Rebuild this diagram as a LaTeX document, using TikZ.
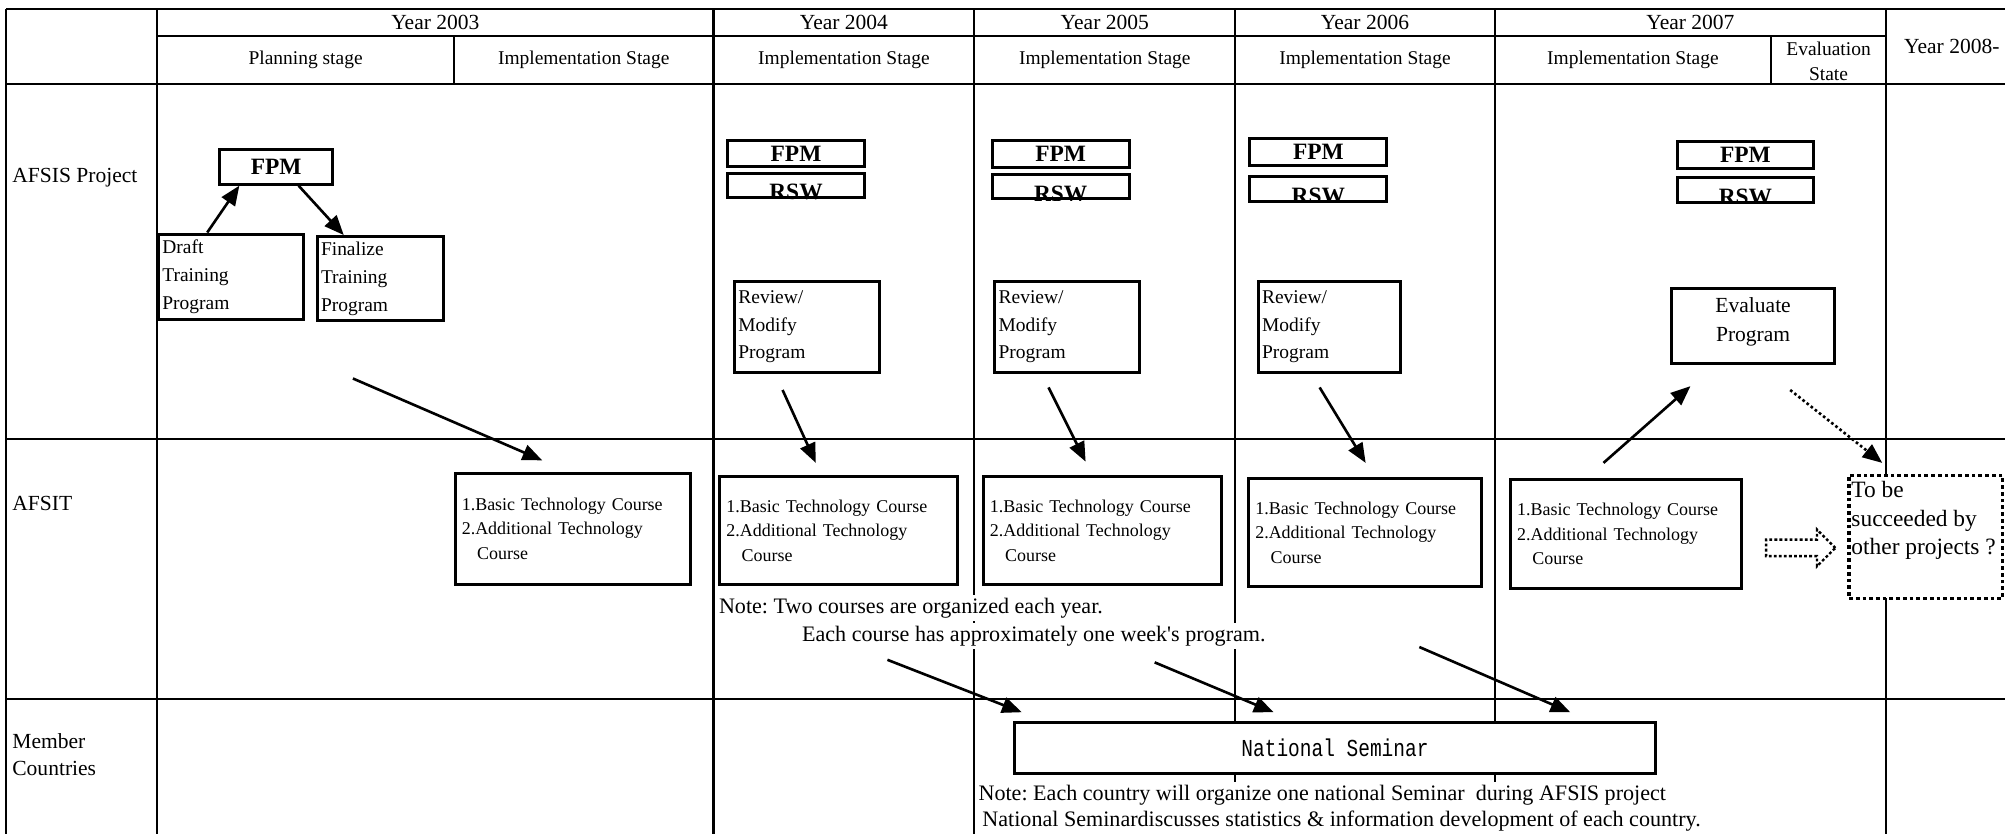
\documentclass[tikz,border=0pt]{standalone}
\usepackage{fontspec}
\setmainfont{Liberation Serif}
\newfontfamily\plainserif{Liberation Serif}
\newfontfamily\seminarfont[FakeStretch=0.8]{Liberation Mono}
\usetikzlibrary{arrows.meta,shapes.arrows}

\begin{document}
\frenchspacing
\begin{tikzpicture}[x=0.024cm, y=-0.024cm,
        tableline/.style = {line width=1.1pt},
        box/.style = {draw, line width=1.6pt, fill=white, inner sep=2pt},
        prog/.style = {box, align=left, inner xsep=2pt},
        heavy/.style = {font=\bfseries\fontsize{12.5}{14}\selectfont},
        txt/.style = {font=\fontsize{10.4}{14.8}\selectfont},
        big/.style = {font=\fontsize{11.5}{14.3}\selectfont},
        note/.style = {anchor=west, fill=white, inner xsep=0pt, inner ysep=1.7pt, font=\plainserif\fontsize{11.8}{14}\selectfont},
        course/.style = {box, align=left, inner xsep=3.5pt, font=\fontsize{9.6}{13}\selectfont},
        go/.style = {line width=1.4pt, -{Triangle[length=10.5pt, width=8.5pt]}}]
    \useasboundingbox (0,0) rectangle (1568,652);

    % table
    \draw[tableline] (5,7) -- (1568,7);
    \draw[tableline] (123,28) -- (1475,28);
    \foreach \y in {66,343,547}
        \draw[tableline] (5,\y) -- (1568,\y);
    \foreach \x in {5,123,558,762,966,1169,1475}
        \draw[tableline] (\x,7) -- (\x,652);
    \foreach \x in {355,1385}
        \draw[tableline] (\x,28) -- (\x,66);

    % headings
    \node[big] (y03) at (340.5,17.5) {Year 2003};
    \node[big] (y04) at (660,17.5) {Year 2004};
    \node[big] (y05) at (864,17.5) {Year 2005};
    \node[big] (y06) at (1067.5,17.5) {Year 2006};
    \node[big] (y07) at (1322,17.5) {Year 2007};
    \node[big, anchor=west] (y08) at (1484,36) {Year 2008-};
    \node[txt] (s03a) at (239,47) {Planning stage};
    \node[txt] (s03b) at (456.5,47) {Implementation Stage};
    \node[txt] (s04) at (660,47) {Implementation Stage};
    \node[txt] (s05) at (864,47) {Implementation Stage};
    \node[txt] (s06) at (1067.5,47) {Implementation Stage};
    \node[txt] (s07a) at (1277,47) {Implementation Stage};
    \node[align=center, font=\fontsize{10.4}{13.7}\selectfont] (s07b) at (1430,48) {Evaluation\\State};
    \node[big, anchor=west] (lproj) at (4.5,139) {AFSIS Project};
    \node[big, anchor=west] (lafsit) at (4.5,394) {AFSIT};
    \node[big, anchor=west, align=left] (lmem) at (4.5,590) {Member\\Countries};

    % AFSIS project
    \node[box, heavy, minimum width=2.112cm, minimum height=0.648cm] (fpm0) at (216,130.5) {FPM};
    \node[prog, txt, text width=2.57cm, minimum height=1.608cm] (draft) at (180.5,216.5) {Draft\\Training\\Program};
    \node[prog, txt, text width=2.23cm, minimum height=1.584cm] (final) at (297.5,218) {Finalize\\Training\\Program};
    \foreach \cx/\fy/\ry/\n in {622.5/120/145/A, 829.5/120.5/146/B, 1031/119/148/C, 1365/121/148.5/D} {
        \node[box, heavy, minimum width=2.568cm, minimum height=0.5cm] (fpm\n) at (\cx,\fy) {FPM};
        \node[box, minimum width=2.568cm, minimum height=0.46cm] (rsw\n) at (\cx,\ry) {};
        \begin{scope}
            \clip (rsw\n.north west) rectangle (rsw\n.south east);
            \node[heavy, anchor=base] (rswt\n) at ([yshift=-0.3pt]rsw\n.south) {RSW};
        \end{scope}
    }
    \node[prog, txt, text width=2.57cm, minimum height=1.704cm] (reviewA) at (631,255.5) {Review/\\Modify\\Program};
    \node[prog, txt, text width=2.57cm, minimum height=1.704cm] (reviewB) at (834.5,255.5) {Review/\\Modify\\Program};
    \node[prog, txt, text width=2.52cm, minimum height=1.704cm] (reviewC) at (1039.5,255.5) {Review/\\Modify\\Program};
    \node[box, align=center, minimum width=3.072cm, minimum height=1.392cm, font=\fontsize{11.5}{15}\selectfont] (evalD) at (1371,255) {Evaluate\\Program\rule{0pt}{0pt}\\[-8pt]};

    % AFSIT
    \node[course, text width=4.17cm, minimum height=2.088cm] (course0) at (448,413.5) {1.Basic Technology Course\\2.Additional Technology\\\hspace*{0.85em}Course};
    \node[course, text width=4.22cm, minimum height=2.016cm] (courseA) at (656,415) {1.Basic Technology Course\\2.Additional Technology\\\hspace*{0.85em}Course};
    \node[course, text width=4.22cm, minimum height=2.016cm] (courseB) at (862,415) {1.Basic Technology Course\\2.Additional Technology\\\hspace*{0.85em}Course};
    \node[course, text width=4.12cm, minimum height=2.04cm] (courseC) at (1067.5,416.5) {1.Basic Technology Course\\2.Additional Technology\\\hspace*{0.85em}Course};
    \node[course, text width=4.08cm, minimum height=2.04cm] (courseD) at (1271.5,417.5) {1.Basic Technology Course\\2.Additional Technology\\\hspace*{0.85em}Course};
    \node[single arrow, draw, line width=1.3pt, dash pattern=on 1.5pt off 1.2pt, minimum height=1.3cm, minimum width=0.65cm, inner sep=0.132cm, single arrow head extend=0.19cm] (fat) at (1405,428.5) {};
    \node[draw, fill=white, line width=1.8pt, dash pattern=on 2pt off 1.6pt, minimum width=2.88cm, minimum height=2.304cm] (succ) at (1506,420) {};
    \node[anchor=north west, align=left, inner xsep=2pt, inner ysep=3.5pt, font=\fontsize{12.5}{15.4}\selectfont] (succtxt) at (succ.north west) {To be\\succeeded by\\other projects ?};
    \node[note] (note1) at (562,475.5) {Note: Two courses are organized each year.};
    \node[note] (note2) at (627,497.5) {Each course has approximately one week's program.};

    % member countries
    \node[box, minimum width=12.048cm, minimum height=0.96cm, font=\seminarfont\fontsize{13}{15}\selectfont] (seminar) at (1044,585) {National Seminar};
    \node[note] (note3) at (765,622) {Note: Each country will organize one national Seminar\ \ during AFSIS project};
    \node[note] (note4) at (768,642) {National Seminardiscusses statistics \& information development of each country.};

    % arrows
    \coordinate (p0) at (276,296);  \coordinate (q0) at (424,360);
    \coordinate (pA) at (612,305);  \coordinate (qA) at (638,362);
    \coordinate (pB) at (820,303);  \coordinate (qB) at (849,361);
    \coordinate (pC) at (1032,303); \coordinate (qC) at (1068,362);
    \coordinate (pD) at (1254,362); \coordinate (qD) at (1322,302);
    \coordinate (pE) at (1400,305); \coordinate (qE) at (1472,362);
    \coordinate (m1) at (694,516);  \coordinate (n1) at (799,557);
    \coordinate (m2) at (903,518);  \coordinate (n2) at (996,557);
    \coordinate (m3) at (1110,506); \coordinate (n3) at (1228,557);
    \draw[go] (draft.118) -- (fpm0.207);
    \draw[go] (fpm0.320) -- (final.130);
    \draw[go] (p0) -- (q0);
    \draw[go] (pA) -- (qA);
    \draw[go] (pB) -- (qB);
    \draw[go] (pC) -- (qC);
    \draw[go] (pD) -- (qD);
    \draw[go, dash pattern=on 1.4pt off 1.4pt] (pE) -- (qE);
    \draw[go] (m1) -- (n1);
    \draw[go] (m2) -- (n2);
    \draw[go] (m3) -- (n3);
\end{tikzpicture}
\end{document}
